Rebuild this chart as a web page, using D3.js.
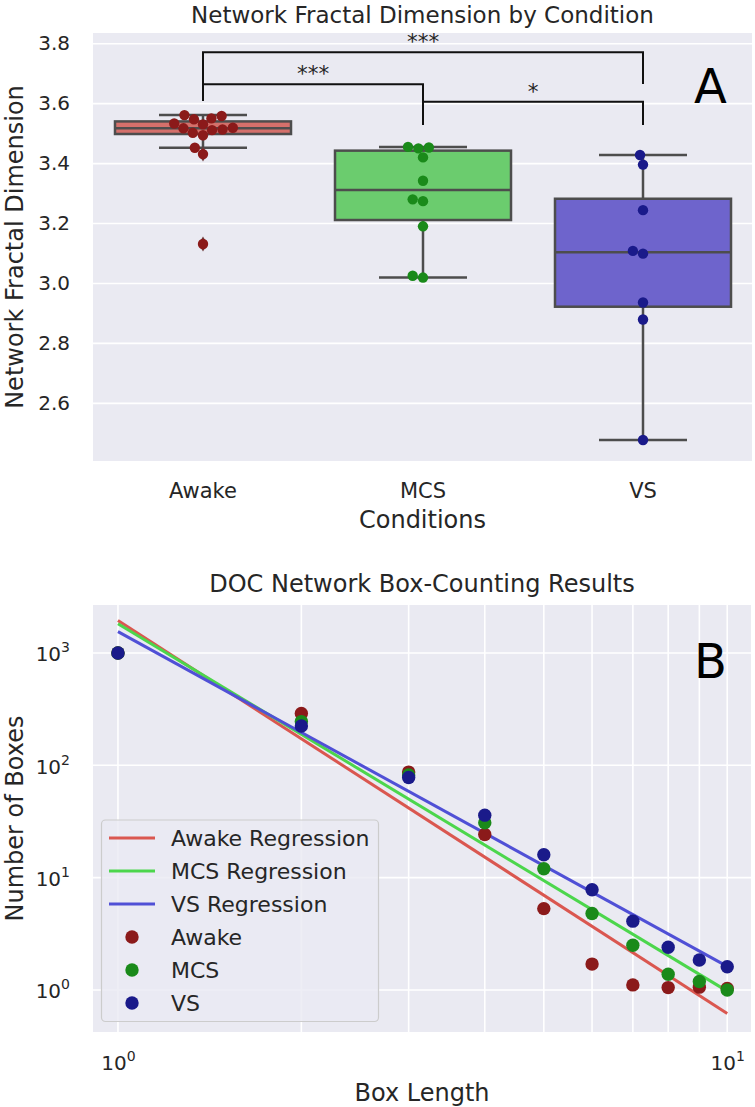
<!DOCTYPE html>
<html><head><meta charset="utf-8">
<script src="https://cdn.jsdelivr.net/npm/d3@7"></script>
<style>
html,body{margin:0;padding:0;background:#fff;}
svg{display:block;font-family:"DejaVu Sans",sans-serif;}
</style></head>
<body>
<svg id="chart" width="755" height="1107"></svg>
<script>
// ---------- Panel A data ----------
const conditions = ["Awake", "MCS", "VS"];
const awakeFD = [3.560, 3.549, 3.557, 3.546, 3.532, 3.529, 3.516, 3.512, 3.518, 3.510, 3.501, 3.493, 3.451, 3.430, 3.130];
const mcsFD = [3.454, 3.449, 3.452, 3.419, 3.341, 3.279, 3.273, 3.189, 3.024, 3.018];
const vsFD = [3.427, 3.395, 3.243, 3.107, 3.098, 2.935, 2.878, 2.476];
const yTicksA = [2.6, 2.8, 3.0, 3.2, 3.4, 3.6, 3.8];
// significance brackets
const sigFrom = ["Awake", "Awake", "MCS"];
const sigTo = ["VS", "MCS", "VS"];
const sigLow = [3.664, 3.607, 3.527];
const sigHigh = [3.770, 3.663, 3.605];
const sigLabel = ["***", "***", "*"];

// ---------- Panel B data ----------
const boxLength = [1, 2, 3, 4, 5, 6, 7, 8, 9, 10];
const awakeBoxes = [1000, 289, 87, 24.2, 5.3, 1.7, 1.11, 1.05, 1.06, 1.03];
const mcsBoxes = [1000, 245, 82, 30.8, 12.0, 4.8, 2.5, 1.38, 1.19, 1.0];
const vsBoxes = [1000, 224, 78, 36, 16.0, 7.8, 4.1, 2.4, 1.85, 1.61];
const regIntercept = [3.29, 3.26, 3.19];   // log10 N at box length 1
const regSlope = [-3.50, -3.27, -2.98];     // log-log slope
const yTicksB = [1, 10, 100, 1000];
const xTicksB = [1, 10];
const xGridB = [1, 2, 3, 4, 5, 6, 7, 8, 9, 10];

// ---------- styles ----------
const BG = "#EAEAF2", TXT = "#262626", LINE = "#4d4d4d";
const boxFill = ["#d4706b", "#6bcc6e", "#6e64cc"];
const ptColor = ["#8b1a1a", "#1a8a1a", "#1a1a8a"];
const regColor = ["#da5750", "#4cd64c", "#5050d6"];

const svg = d3.select("#chart");

// ================= PANEL A =================
const A = {l: 93, r: 752, t: 33, b: 461};
const xA = d3.scaleBand().domain(conditions).range([A.l, A.r + 1]).padding(0);
const yA = d3.scaleLinear().domain([2.406, 3.834]).range([A.b, A.t]);
const gA = svg.append("g");
gA.append("rect").attr("x", A.l).attr("y", A.t).attr("width", A.r - A.l).attr("height", A.b - A.t).attr("fill", BG);
const yAxisA = d3.axisLeft(yA).tickValues(yTicksA).tickFormat(d3.format(".1f")).tickSize(-(A.r - A.l)).tickPadding(23);
const axA = gA.append("g").attr("transform", `translate(${A.l},0)`).call(yAxisA);
axA.select(".domain").remove();
axA.selectAll(".tick line").attr("stroke", "#fff").attr("stroke-width", 1.6);
axA.selectAll(".tick text").attr("font-size", 20).attr("fill", TXT).attr("font-family", "DejaVu Sans");

const xAxisA = d3.axisBottom(xA).tickSize(0).tickPadding(0);
const axXA = gA.append("g").attr("transform", `translate(0,${A.b})`).call(xAxisA);
axXA.select(".domain").remove();
axXA.selectAll(".tick text").attr("font-size", 21).attr("fill", TXT).attr("dy", null).attr("y", 37).attr("font-family", "DejaVu Sans");

const series = [awakeFD, mcsFD, vsFD];
const bw = xA.bandwidth() * 0.8;
series.forEach((vals, i) => {
  const cat = conditions[i];
  const cx = xA(cat) + xA.bandwidth() / 2;
  const s = vals.slice().sort(d3.ascending);
  const q1 = d3.quantile(s, 0.25), med = d3.quantile(s, 0.5), q3 = d3.quantile(s, 0.75);
  const iqr = q3 - q1;
  const inl = s.filter(v => v >= q1 - 1.5 * iqr && v <= q3 + 1.5 * iqr);
  const wlo = d3.min(inl), whi = d3.max(inl);
  const fliers = s.filter(v => v < q1 - 1.5 * iqr || v > q3 + 1.5 * iqr);
  const g = gA.append("g");
  g.append("line").attr("x1", cx).attr("x2", cx).attr("y1", yA(q3)).attr("y2", yA(whi)).attr("stroke", LINE).attr("stroke-width", 2.5);
  g.append("line").attr("x1", cx).attr("x2", cx).attr("y1", yA(q1)).attr("y2", yA(wlo)).attr("stroke", LINE).attr("stroke-width", 2.5);
  [whi, wlo].forEach(v => g.append("line").attr("x1", cx - bw / 4).attr("x2", cx + bw / 4).attr("y1", yA(v)).attr("y2", yA(v)).attr("stroke", LINE).attr("stroke-width", 2.5));
  g.append("rect").attr("x", cx - bw / 2).attr("y", yA(q3)).attr("width", bw).attr("height", yA(q1) - yA(q3))
    .attr("fill", boxFill[i]).attr("stroke", LINE).attr("stroke-width", 2.5);
  g.append("line").attr("x1", cx - bw / 2).attr("x2", cx + bw / 2).attr("y1", yA(med)).attr("y2", yA(med)).attr("stroke", LINE).attr("stroke-width", 2.5);
  fliers.forEach(v => {
    const y = yA(v);
    g.append("path").attr("d", `M${cx},${y - 7.5}L${cx + 4.5},${y}L${cx},${y + 7.5}L${cx - 4.5},${y}Z`).attr("fill", "#6b3a3a");
  });
  // beeswarm (seaborn-like)
  const d = 10;
  const pts = vals.map(v => ({v, u: -yA(v)})).sort((a, b) => a.u - b.u);
  const swarm = [];
  pts.forEach((p, k) => {
    if (k === 0) { swarm.push({x: cx, u: p.u, v: p.v}); return; }
    const nb = [];
    for (let j = swarm.length - 1; j >= 0; j--) { if (p.u - swarm[j].u < d) nb.push(swarm[j]); else break; }
    nb.reverse();
    const cands = [cx];
    let leftFirst = true;
    nb.forEach(n => {
      const dy = p.u - n.u;
      const dx = Math.sqrt(Math.max(d * d - dy * dy, 0)) * 1.05;
      if (leftFirst) cands.push(n.x - dx, n.x + dx); else cands.push(n.x + dx, n.x - dx);
      leftFirst = !leftFirst;
    });
    const order = cands.map((c, idx) => ({c, idx})).sort((a, b) => (Math.abs(a.c - cx) - Math.abs(b.c - cx)) || (a.idx - b.idx));
    let chosen = cx;
    for (const o of order) {
      if (nb.every(n => (n.x - o.c) ** 2 + (n.u - p.u) ** 2 >= d * d)) { chosen = o.c; break; }
    }
    swarm.push({x: chosen, u: p.u, v: p.v});
  });
  g.selectAll("circle.sw").data(swarm).enter().append("circle")
    .attr("cx", p => p.x).attr("cy", p => yA(p.v)).attr("r", 5.2).attr("fill", ptColor[i]);
});

// significance brackets
sigFrom.forEach((f, i) => {
  const x1 = xA(f) + xA.bandwidth() / 2, x2 = xA(sigTo[i]) + xA.bandwidth() / 2;
  const lo = yA(sigLow[i]), hi = yA(sigHigh[i]);
  gA.append("path").attr("d", `M${x1},${lo}L${x1},${hi}L${x2},${hi}L${x2},${lo}`)
    .attr("fill", "none").attr("stroke", "#111").attr("stroke-width", 2);
  gA.append("text").attr("x", (x1 + x2) / 2).attr("y", hi - 3).attr("text-anchor", "middle")
    .attr("font-size", 21.5).attr("fill", TXT).text(sigLabel[i]);
});

gA.append("text").attr("x", (A.l + A.r) / 2).attr("y", 22.5).attr("text-anchor", "middle").attr("font-size", 23).attr("fill", TXT)
  .text("Network Fractal Dimension by Condition");
gA.append("text").attr("x", (A.l + A.r) / 2).attr("y", 528).attr("text-anchor", "middle").attr("font-size", 24).attr("fill", TXT)
  .text("Conditions");
gA.append("text").attr("transform", `translate(23,${(A.t + A.b) / 2}) rotate(-90)`).attr("text-anchor", "middle").attr("font-size", 24).attr("fill", TXT)
  .text("Network Fractal Dimension");
gA.append("text").attr("x", 694).attr("y", 103).attr("font-size", 48).attr("fill", "#000").text("A");

// ================= PANEL B =================
const B = {l: 93, r: 751, t: 605, b: 1032};
const xB = d3.scaleLog().domain([0.91, 10.94]).range([B.l, B.r]);
const yB = d3.scaleLog().domain([0.4227, 2673]).range([B.b, B.t]);
const gB = svg.append("g");
gB.append("rect").attr("x", B.l).attr("y", B.t).attr("width", B.r - B.l).attr("height", B.b - B.t).attr("fill", BG);
const grid = gB.append("g");
grid.selectAll("line.gx").data(xGridB).enter().append("line")
  .attr("x1", d => xB(d)).attr("x2", d => xB(d)).attr("y1", B.t).attr("y2", B.b).attr("stroke", "#fff").attr("stroke-width", 1.6);
grid.selectAll("line.gy").data(yTicksB).enter().append("line")
  .attr("y1", d => yB(d)).attr("y2", d => yB(d)).attr("x1", B.l).attr("x2", B.r).attr("stroke", "#fff").attr("stroke-width", 1.6);

function powLabel(sel, exp) {
  sel.append("tspan").text("10");
  sel.append("tspan").attr("font-size", 14).attr("dy", -9).text(exp);
}
const yAxisB = d3.axisLeft(yB).tickValues(yTicksB).tickSize(0).tickPadding(23).tickFormat(() => "");
const ayB = gB.append("g").attr("transform", `translate(${B.l},0)`).call(yAxisB);
ayB.select(".domain").remove();
ayB.selectAll(".tick text").each(function(d) {
  const t = d3.select(this).attr("font-size", 20).attr("fill", TXT).attr("font-family", "DejaVu Sans").attr("dy", null).attr("y", 8);
  powLabel(t, String(Math.round(Math.log10(d))));
});
const xAxisB = d3.axisBottom(xB).tickValues(xTicksB).tickSize(0).tickPadding(0).tickFormat(() => "");
const axB = gB.append("g").attr("transform", `translate(0,${B.b})`).call(xAxisB);
axB.select(".domain").remove();
axB.selectAll(".tick text").each(function(d) {
  const t = d3.select(this).attr("font-size", 20).attr("fill", TXT).attr("font-family", "DejaVu Sans").attr("dy", null).attr("y", 38);
  powLabel(t, String(Math.round(Math.log10(d))));
});

// regression lines
const lineGen = d3.line().x(p => xB(p[0])).y(p => yB(p[1]));
regIntercept.forEach((b0, i) => {
  const ends = [boxLength[0], boxLength[boxLength.length - 1]].map(x => [x, Math.pow(10, b0 + regSlope[i] * Math.log10(x))]);
  gB.append("path").attr("d", lineGen(ends)).attr("fill", "none").attr("stroke", regColor[i]).attr("stroke-width", 3);
});
// scatter
[awakeBoxes, mcsBoxes, vsBoxes].forEach((vals, i) => {
  gB.append("g").selectAll("circle").data(vals).enter().append("circle")
    .attr("cx", (v, k) => xB(boxLength[k])).attr("cy", v => yB(v)).attr("r", 6.7).attr("fill", ptColor[i]);
});

// legend
const leg = gB.append("g");
leg.append("rect").attr("x", 101.5).attr("y", 820).attr("width", 277).attr("height", 201.5).attr("rx", 4)
  .attr("fill", BG).attr("fill-opacity", 0.8).attr("stroke", "#cccccc").attr("stroke-width", 1.2);
const legLabels = ["Awake Regression", "MCS Regression", "VS Regression", "Awake", "MCS", "VS"];
legLabels.forEach((lab, k) => {
  const y = 838 + k * 33;
  if (k < 3) leg.append("line").attr("x1", 109).attr("x2", 155).attr("y1", y).attr("y2", y).attr("stroke", regColor[k]).attr("stroke-width", 3);
  else leg.append("circle").attr("cx", 132).attr("cy", y).attr("r", 6.7).attr("fill", ptColor[k - 3]);
  leg.append("text").attr("x", 171).attr("y", y + 8).attr("font-size", 22).attr("fill", TXT).text(lab);
});

gB.append("text").attr("x", (B.l + B.r) / 2).attr("y", 592).attr("text-anchor", "middle").attr("font-size", 24).attr("fill", TXT)
  .text("DOC Network Box-Counting Results");
gB.append("text").attr("x", (B.l + B.r) / 2).attr("y", 1101).attr("text-anchor", "middle").attr("font-size", 24).attr("fill", TXT)
  .text("Box Length");
gB.append("text").attr("transform", `translate(23,${(B.t + B.b) / 2}) rotate(-90)`).attr("text-anchor", "middle").attr("font-size", 24).attr("fill", TXT)
  .text("Number of Boxes");
gB.append("text").attr("x", 694).attr("y", 678).attr("font-size", 48).attr("fill", "#000").text("B");
</script>
</body></html>
